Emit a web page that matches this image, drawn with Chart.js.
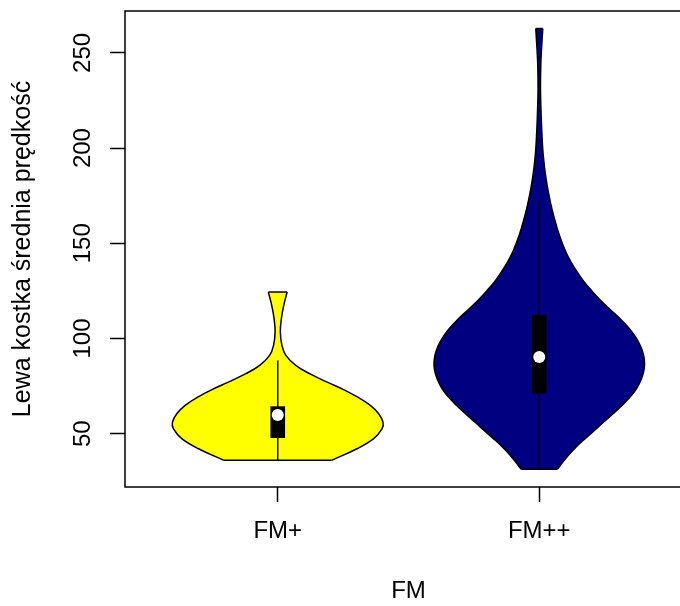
<!DOCTYPE html>
<html>
<head>
<meta charset="utf-8">
<script src="https://cdn.jsdelivr.net/npm/chart.js@4.4.1/dist/chart.umd.min.js"></script>
<style>
  html, body { margin: 0; padding: 0; background: #ffffff; overflow: hidden; width: 680px; height: 606px; }
  canvas { display: block; }
</style>
</head>
<body>
<canvas id="c" width="700" height="606"></canvas>
<script>
// ---------------- data ----------------
const categories = ['FM+', 'FM++'];
const yTicks = [50, 100, 150, 200, 250];
const xTitle = 'FM';
const yTitle = 'Lewa kostka średnia prędkość';

// violin outlines: value levels and half-widths (in x-axis units)
const levelsFMp = [36.0, 42.1, 47.4, 52.6, 56.1, 60.5, 64.9, 69.2, 73.6, 77.1, 81.5, 85.9, 91.1, 96.4, 103.4, 110.4, 117.4, 124.4];
const halfWidthFMp = [0.206, 0.303, 0.367, 0.399, 0.4025, 0.386, 0.354, 0.306, 0.245, 0.189, 0.122, 0.069, 0.031, 0.016, 0.010, 0.014, 0.023, 0.036];

const levelsFMpp = [31.3, 34, 37, 40, 43, 46, 50, 54, 58, 62, 66, 70, 74, 78, 82, 86, 90, 94, 98, 102, 106, 110, 115, 120, 125, 130, 135, 140, 145, 150, 155, 160, 165, 170, 175, 180, 185, 190, 195, 200, 210, 220, 232, 245, 255, 262.8];
const halfWidthFMpp = [0.069, 0.084, 0.101, 0.120, 0.141, 0.164, 0.197, 0.229, 0.262, 0.294, 0.325, 0.352, 0.373, 0.388, 0.398, 0.4025, 0.4006, 0.393, 0.380, 0.362, 0.339, 0.312, 0.273, 0.235, 0.201, 0.170, 0.1445, 0.122, 0.103, 0.088, 0.075, 0.064, 0.054, 0.045, 0.0375, 0.0306, 0.0248, 0.0199, 0.0161, 0.0130, 0.0092, 0.0065, 0.0046, 0.0061, 0.0099, 0.0134];

// box plot statistics
const q1 = [47.9, 71.3];
const q3 = [64.2, 112.2];
const medians = [59.8, 90.3];
const whiskerLow = [36.0, 31.3];
const whiskerHigh = [88.5, 172.6];

const violinColors = ['#FFFF00', '#000080'];

// axis ranges
const xMin = 0.416, xMax = 2.584;
const yMin = 22.0, yMax = 272.0;

// ---------------- build datasets ----------------
const FONT_FAMILY = '"Liberation Sans", Arial, Helvetica, sans-serif';
Chart.defaults.font.family = FONT_FAMILY;
Chart.defaults.color = '#000';

function violinDatasets(center, levels, halfW, color) {
  const n = levels.length;
  const left = levels.map((v, i) => ({ x: center - halfW[i], y: v }));
  const right = levels.map((v, i) => ({ x: center + halfW[i], y: v }));
  const common = {
    type: 'line', indexAxis: 'y', tension: 0.4,
    pointRadius: 0, pointHoverRadius: 0, borderColor: '#000', borderWidth: 1.5,
    backgroundColor: color
  };
  const edge = { type: 'line', pointRadius: 0, pointHoverRadius: 0, borderColor: '#000', borderWidth: 1.5, fill: false, order: 4 };
  return [
    Object.assign({}, common, { data: left, fill: '+1', order: 6 }),
    Object.assign({}, common, { data: right, fill: false, order: 5 }),
    Object.assign({}, edge, { data: [left[0], right[0]] }),
    Object.assign({}, edge, { data: [left[n - 1], right[n - 1]] })
  ];
}

const datasets = [];
datasets.push(...violinDatasets(1, levelsFMp, halfWidthFMp, violinColors[0]));
datasets.push(...violinDatasets(2, levelsFMpp, halfWidthFMpp, violinColors[1]));
categories.forEach((c, i) => {
  datasets.push({
    type: 'line', data: [{ x: i + 1, y: whiskerLow[i] }, { x: i + 1, y: whiskerHigh[i] }],
    borderColor: '#000', borderWidth: 1.5, pointRadius: 0, pointHoverRadius: 0, fill: false, order: 3
  });
});
datasets.push({
  type: 'bar',
  data: categories.map((c, i) => ({ x: i + 1, y: [q1[i], q3[i]] })),
  backgroundColor: '#000', borderWidth: 0, barThickness: 14, order: 2
});
datasets.push({
  type: 'scatter',
  data: categories.map((c, i) => ({ x: i + 1, y: medians[i] })),
  pointRadius: 6, pointHoverRadius: 6, pointBackgroundColor: '#ffffff', pointBorderWidth: 0, order: 1
});

// ---------------- plugin: plot frame + rotated y tick labels ----------------
const rStylePlugin = {
  id: 'rStyle',
  afterDraw(chart) {
    const ctx = chart.ctx, a = chart.chartArea, ys = chart.scales.y;
    ctx.save();
    ctx.strokeStyle = '#000';
    ctx.lineWidth = 1.5;
    ctx.strokeRect(a.left, a.top, a.right - a.left, a.bottom - a.top);
    ctx.fillStyle = '#000';
    ctx.font = '24px ' + FONT_FAMILY;
    ctx.textAlign = 'center';
    ctx.textBaseline = 'alphabetic';
    yTicks.forEach(v => {
      const py = ys.getPixelForValue(v);
      ctx.save();
      ctx.translate(a.left - 35, py);
      ctx.rotate(-Math.PI / 2);
      ctx.fillText(String(v), 0, 0);
      ctx.restore();
    });
    ctx.restore();
  }
};

const axisFont = { size: 24, family: FONT_FAMILY };
const yTitleFont = { size: 25, family: FONT_FAMILY };

new Chart(document.getElementById('c'), {
  type: 'scatter',
  data: { datasets },
  options: {
    responsive: false,
    animation: false,
    events: [],
    layout: { padding: { top: 11, right: 8, left: 0, bottom: 0 } },
    plugins: { legend: { display: false }, tooltip: { enabled: false } },
    scales: {
      x: {
        type: 'linear', min: xMin, max: xMax, offset: false,
        afterBuildTicks: s => { s.ticks = categories.map((c, i) => ({ value: i + 1 })); },
        ticks: {
          callback: v => categories[Math.round(v) - 1] || '',
          font: axisFont, color: '#000', padding: 15, maxRotation: 0, minRotation: 0, autoSkip: false
        },
        grid: { offset: false, drawOnChartArea: false, drawTicks: true, tickLength: 15, tickColor: '#000', tickWidth: 1.5 },
        border: { display: false },
        title: { display: true, text: xTitle, font: axisFont, color: '#000', padding: { top: 0, bottom: 0 } },
        afterFit: s => { s.height = 119; }
      },
      y: {
        type: 'linear', min: yMin, max: yMax, offset: false, beginAtZero: false,
        afterBuildTicks: s => { s.ticks = yTicks.map(v => ({ value: v })); },
        ticks: { display: false },
        grid: { offset: false, drawOnChartArea: false, drawTicks: true, tickLength: 15, tickColor: '#000', tickWidth: 1.5 },
        border: { display: false },
        title: { display: true, text: yTitle, font: yTitleFont, color: '#000', padding: { top: 8, bottom: 0 } },
        afterFit: s => { s.width = 125; }
      }
    }
  },
  plugins: [rStylePlugin]
});
</script>
</body>
</html>
